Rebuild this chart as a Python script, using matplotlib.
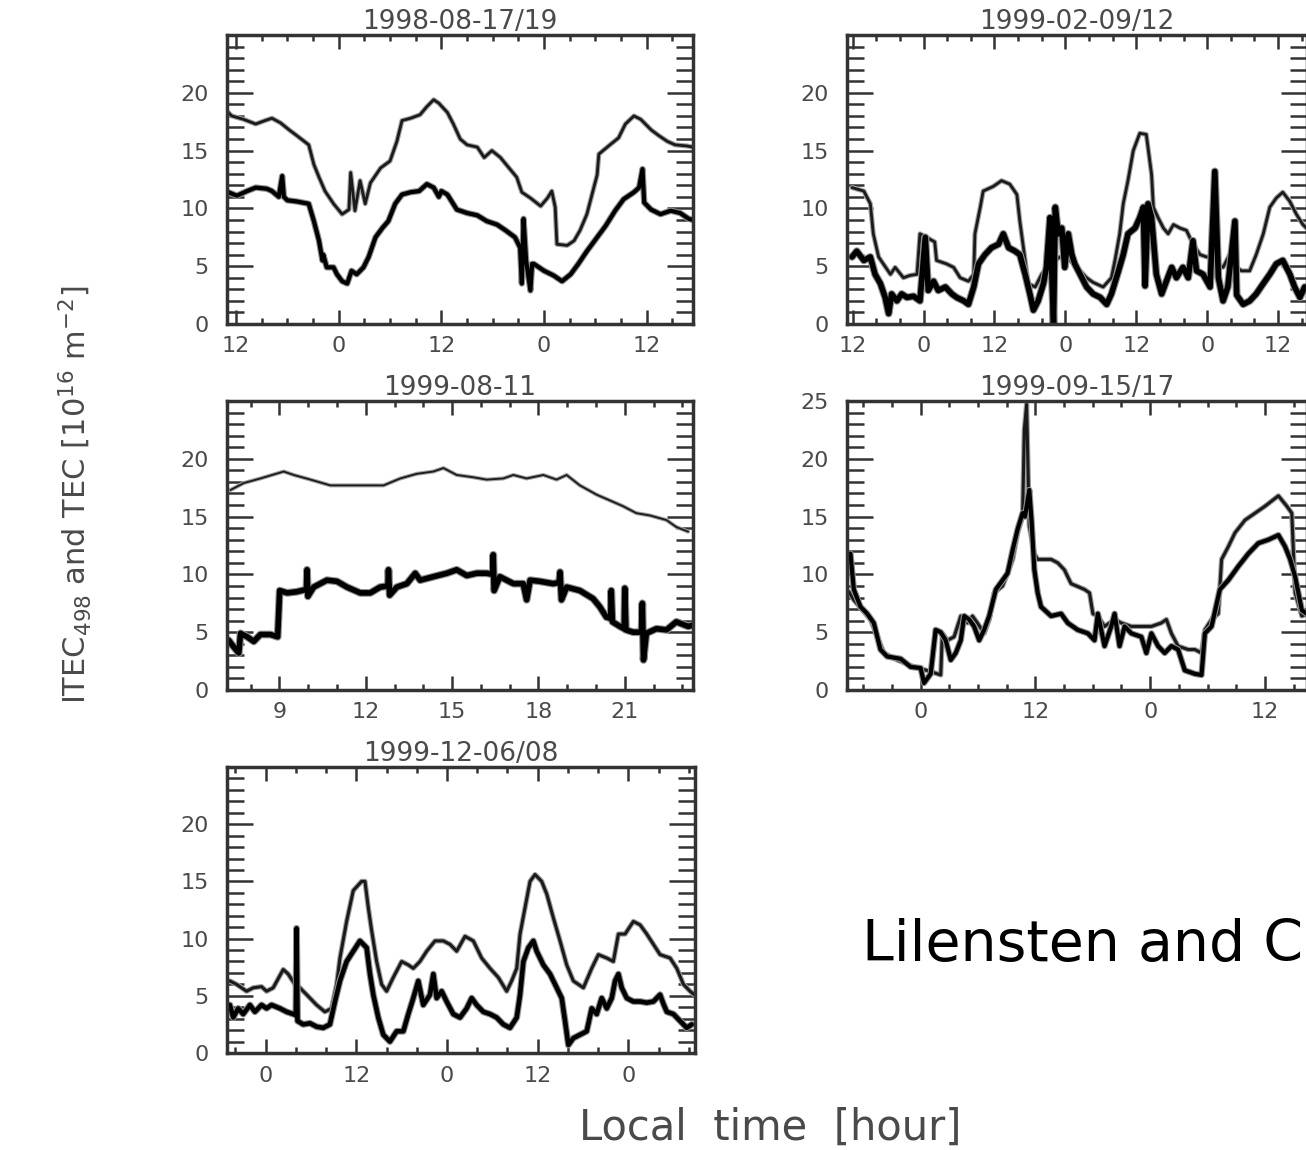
import matplotlib
matplotlib.use("Agg")
import matplotlib.pyplot as plt
from matplotlib.ticker import FixedLocator, MultipleLocator
import matplotlib.patheffects as pe

# ---------------- data (hours, TEC units 1e16 m^-2) ----------------
titles = ["1998-08-17/19", "1999-02-09/12", "1999-08-11", "1999-09-15/17", "1999-12-06/08"]

p1_upper = [(-12.9,18.3),(-12.5,18.0),(-11.1,17.7),(-9.7,17.3),(-8.6,17.6),(-7.8,17.8),(-6.8,17.4),
            (-5.8,16.8),(-4.9,16.3),(-3.5,15.5),(-2.9,13.8),(-2.3,12.7),(-1.6,11.5),(-0.6,10.4),(0.4,9.5),
            (1.2,9.9),(1.4,13.1),(1.9,9.8),(2.5,12.4),(3.1,10.4),(3.7,12.2),(4.9,13.5),(6.0,14.1),(6.8,15.8),
            (7.4,17.6),(8.4,17.8),(9.5,18.1),(10.3,18.8),(11.1,19.4),(11.7,19.1),(12.7,18.3),(13.4,17.3),
            (14.2,16.0),(15.0,15.5),(16.2,15.3),(17.0,14.4),(17.9,15.0),(18.9,14.4),(19.9,13.5),(20.8,12.7),
            (21.4,11.4),(22.4,10.9),(23.6,10.2),(24.4,10.9),(24.9,11.5),(25.3,10.1),(25.5,6.9),(26.7,6.8),
            (27.5,7.2),(28.2,8.1),(29.0,9.5),(29.6,11.2),(30.2,12.9),(30.4,14.7),(31.7,15.5),(32.7,16.1),
            (33.5,17.3),(34.5,18.0),(35.3,17.7),(36.5,16.8),(37.4,16.3),(38.4,15.8),(39.3,15.5),(40.7,15.4),
            (41.4,15.3)]
p1_lower = [(-12.9,11.4),(-11.9,11.1),(-10.7,11.5),(-9.7,11.8),(-8.4,11.7),(-7.8,11.5),(-7.0,11.0),
            (-6.6,12.8),(-6.4,11.0),(-6.0,10.7),(-4.9,10.6),(-3.5,10.4),(-2.9,8.9),(-2.3,7.2),(-1.9,5.5),
            (-1.8,6.0),(-1.4,4.9),(-0.6,4.9),(-0.2,4.3),(0.4,3.7),(1.0,3.5),(1.5,4.6),(2.1,4.3),(2.9,4.9),
            (3.5,5.8),(4.3,7.5),(5.1,8.3),(5.8,8.9),(6.6,10.4),(7.4,11.2),(8.4,11.4),(9.4,11.5),(10.3,12.1),
            (11.1,11.8),(11.7,11.0),(12.0,11.5),(12.7,11.2),(13.8,9.9),(15.0,9.6),(16.2,9.4),(17.3,8.9),
            (18.5,8.6),(19.5,8.1),(20.6,7.5),(21.2,6.6),(21.4,3.5),(21.6,9.1),(21.9,5.5),(22.4,2.9),
            (22.6,5.2),(22.8,5.2),(24.0,4.6),(25.1,4.2),(26.1,3.7),(27.1,4.3),(28.0,5.2),(29.0,6.3),
            (30.2,7.5),(31.2,8.5),(32.3,9.8),(33.3,10.8),(34.5,11.4),(35.1,11.8),(35.5,13.4),(35.7,10.5),
            (36.5,9.9),(37.6,9.5),(38.8,9.8),(39.9,9.6),(40.9,9.1),(41.4,9.0)]

p2_upper = [(-12.1,11.8),(-10.1,11.5),(-9.0,10.4),(-8.5,7.8),(-7.6,5.8),(-6.8,5.2),(-5.6,4.3),(-4.8,4.9),
            (-3.4,4.0),(-2.3,4.2),(-1.1,4.3),(-0.6,7.8),(0.5,7.5),(1.9,7.1),(2.2,5.5),(3.9,5.2),(5.1,4.9),
            (6.2,4.0),(7.6,3.7),(8.5,4.3),(8.7,7.8),(9.6,10.1),(10.1,11.5),(11.8,11.9),(13.2,12.4),
            (14.6,12.1),(15.8,11.2),(16.3,8.9),(17.2,5.5),(17.7,3.5),(18.9,3.2),(20.0,4.3),(21.4,5.2),
            (23.1,5.8),(24.2,5.8),(25.4,5.2),(26.5,4.6),(27.6,4.0),(28.7,3.6),(30.4,3.2),(31.8,4.0),
            (32.4,5.5),(33.2,7.8),(33.8,10.4),(34.6,12.4),(35.5,15.0),(36.6,16.5),(37.7,16.4),(38.6,12.9),
            (38.9,10.1),(39.7,9.2),(40.6,8.3),(41.4,7.8),(42.3,8.6),(43.4,8.3),(44.5,8.1),(45.6,6.9),
            (46.8,6.0),(47.9,5.8),(48.7,5.8),(49.6,5.2),(50.7,4.9),(51.8,6.0),(53.0,4.9),(53.8,4.6),
            (55.2,4.6),(56.3,6.0),(57.5,7.8),(58.6,10.1),(59.7,10.9),(60.8,11.4),(62.0,10.6),(63.1,9.5),
            (64.2,8.6),(64.8,8.3)]
p2_lower = [(-12.1,5.8),(-11.3,6.3),(-10.1,5.5),(-9.0,5.8),(-8.2,4.3),(-7.3,3.5),(-6.5,2.3),(-5.9,0.9),
            (-5.4,2.6),(-4.5,2.0),(-3.7,2.6),(-2.8,2.3),(-1.7,2.4),(-0.6,2.0),(0.3,7.5),(0.8,2.9),(1.7,3.7),
            (2.5,2.9),(3.7,3.2),(4.8,2.6),(5.6,2.3),(6.8,2.0),(7.6,1.7),(8.5,3.2),(9.3,5.2),(10.4,6.0),
            (11.5,6.6),(12.7,6.9),(13.5,7.8),(14.4,6.6),(15.5,6.3),(16.3,6.0),(17.2,4.3),(18.0,2.6),
            (18.6,1.2),(19.4,2.0),(20.3,3.5),(20.8,4.9),(21.4,9.2),(22.0,0.0),(22.3,10.1),(22.8,7.8),
            (23.4,8.3),(23.9,4.9),(24.5,7.8),(25.1,6.0),(25.6,5.2),(26.5,4.3),(27.6,3.2),(28.7,2.6),
            (29.9,2.3),(31.0,1.7),(31.8,2.6),(33.0,4.6),(33.8,6.0),(34.6,7.8),(35.8,8.3),(36.6,9.2),
            (37.2,10.1),(37.5,3.3),(38.0,10.4),(38.6,9.2),(39.4,4.3),(40.3,2.6),(41.1,3.7),(42.0,4.9),
            (42.8,4.0),(43.9,4.9),(44.8,4.0),(45.6,7.2),(46.2,4.6),(47.3,4.3),(48.5,3.2),(49.3,13.2),
            (49.9,4.0),(50.7,2.0),(51.5,3.2),(52.7,8.9),(53.0,2.5),(54.1,1.7),(55.2,2.0),(56.3,2.6),
            (57.5,3.5),(58.6,4.3),(59.7,5.2),(60.8,5.5),(62.0,4.3),(62.8,3.2),(63.7,2.3),(64.5,3.2)]

p3_upper = [(7.30,17.3),(7.76,17.9),(8.34,18.3),(9.15,18.9),(9.50,18.6),(10.08,18.2),(10.77,17.7),
            (11.35,17.7),(12.04,17.7),(12.62,17.7),(13.20,18.3),(13.77,18.7),(14.35,18.9),(14.70,19.2),
            (15.16,18.6),(15.74,18.4),(16.20,18.2),(16.78,18.3),(17.13,18.6),(17.59,18.3),(18.17,18.6),
            (18.63,18.2),(18.98,18.6),(19.44,17.7),(20.02,16.9),(20.48,16.4),(20.94,15.9),(21.40,15.3),
            (21.87,15.1),(22.45,14.7),(22.79,14.1),(23.20,13.7)]
p3_lower = [(7.24,4.3),(7.42,3.7),(7.59,3.2),(7.65,4.9),(7.88,4.6),(8.11,4.2),(8.34,4.8),(8.69,4.8),
            (8.94,4.6),(9.01,8.6),(9.27,8.4),(9.61,8.5),(9.94,8.7),(9.96,10.4),(9.99,8.1),(10.19,8.9),
            (10.65,9.5),(11.0,9.4),(11.35,8.9),(11.81,8.4),(12.16,8.4),(12.50,8.9),(12.77,9.0),(12.79,10.4),
            (12.83,8.2),(13.08,8.9),(13.43,9.2),(13.72,10.1),(13.89,9.5),(14.35,9.8),(14.82,10.1),
            (15.16,10.4),(15.51,9.9),(15.86,10.1),(16.20,10.1),(16.41,10.0),(16.43,11.7),(16.46,8.6),
            (16.66,9.8),(17.13,9.2),(17.47,9.2),(17.59,7.8),(17.71,9.5),(18.05,9.4),(18.51,9.2),(18.72,9.3),
            (18.75,10.2),(18.80,7.8),(18.98,8.9),(19.44,8.6),(19.90,7.9),(20.13,7.2),(20.36,6.3),
            (20.51,6.2),(20.53,8.6),(20.57,5.9),(20.83,5.5),(20.98,5.3),(21.0,8.8),(21.04,5.2),(21.29,5.0),
            (21.58,5.0),(21.61,7.5),(21.65,2.6),(21.75,4.9),(22.10,5.3),(22.45,5.2),(22.79,5.9),
            (23.20,5.5),(23.35,5.6)]

p4_upper = [(-7.5,8.5),(-7.0,7.8),(-5.24,6.1),(-3.85,3.2),(-2.45,2.6),(-0.70,2.0),(1.05,1.6),(2.10,1.3),
            (2.27,4.9),(2.80,4.3),(3.50,4.6),(4.20,6.4),(4.90,5.8),(5.42,6.4),(5.94,5.8),(6.64,4.9),
            (7.17,6.1),(7.69,8.4),(8.57,9.0),(9.09,10.1),(9.62,11.3),(10.14,13.6),(10.66,15.0),(10.84,22.5),
            (11.08,24.7),(11.36,14.2),(11.89,11.8),(12.24,11.3),(13.64,11.3),(14.34,11.0),(15.03,10.4),
            (15.73,9.2),(17.13,8.7),(17.66,8.4),(18.01,6.6),(18.53,6.4),(19.23,5.5),(20.28,6.1),(20.98,5.8),
            (22.03,5.5),(23.08,5.5),(24.13,5.5),(25.17,5.8),(25.70,6.1),(26.22,4.9),(26.92,3.8),(27.97,3.5),
            (28.67,3.5),(29.37,3.2),(29.72,5.2),(30.42,6.1),(31.12,6.6),(31.47,11.3),(32.17,12.4),
            (32.87,13.6),(33.92,14.7),(34.97,15.3),(36.01,15.9),(37.41,16.8),(38.29,15.9),(38.81,15.3),
            (39.16,8.4),(39.86,6.4),(40.38,6.6)]
p4_lower = [(-7.34,11.8),(-6.99,8.7),(-6.29,7.2),(-5.59,6.6),(-4.90,5.8),(-4.20,3.5),(-3.50,2.9),
            (-2.10,2.7),(-1.05,2.0),(0.0,1.9),(0.35,0.6),(1.05,1.4),(1.57,5.2),(2.10,5.0),(2.62,4.3),
            (3.15,2.6),(3.67,3.2),(4.20,4.3),(4.55,6.4),(5.07,6.1),(5.59,5.5),(6.12,4.3),(6.64,5.2),
            (7.17,6.4),(7.87,8.7),(8.57,9.5),(9.09,10.1),(9.62,12.1),(10.14,13.9),(10.66,15.3),(10.91,15.0),
            (11.36,17.3),(11.61,14.5),(11.89,10.4),(12.24,8.4),(12.59,7.2),(13.64,6.4),(14.69,6.6),
            (15.38,5.8),(16.43,5.2),(17.48,4.9),(18.18,4.3),(18.53,6.6),(19.23,3.8),(19.93,5.5),(20.28,6.6),
            (20.80,3.8),(21.33,5.5),(22.03,4.9),(23.08,4.6),(23.60,3.2),(24.13,4.9),(24.83,3.8),(25.52,3.2),
            (26.22,3.8),(26.92,3.5),(27.62,1.7),(28.67,1.4),(29.37,1.3),(29.72,4.9),(30.42,5.5),(31.29,8.7),
            (32.17,9.5),(33.22,10.7),(34.27,11.8),(35.31,12.7),(36.36,13.0),(37.41,13.4),(38.11,12.4),
            (38.64,11.3),(39.16,9.8),(39.86,6.9),(40.38,6.6)]

p5_upper = [(-4.72,6.3),(-3.84,6.0),(-2.51,5.4),(-1.63,5.7),(-0.53,5.8),(0.13,5.4),(1.01,5.7),(2.34,7.3),
            (3.0,6.9),(3.88,6.0),(4.54,5.7),(5.43,5.1),(6.75,4.2),(7.85,3.6),(8.73,3.9),(9.40,6.0),(9.84,8.3),
            (10.72,11.5),(11.60,14.2),(12.70,15.0),(13.15,15.0),(13.59,12.7),(14.03,10.7),(14.69,8.0),
            (15.35,6.0),(16.01,5.4),(16.89,6.6),(18.0,8.0),(18.88,7.7),(19.54,7.4),(20.42,8.0),(21.31,8.9),
            (22.41,9.8),(23.51,9.8),(24.39,9.5),(25.28,8.9),(26.38,10.2),(27.48,9.8),(28.58,8.3),(29.69,7.4),
            (30.79,6.6),(31.89,5.4),(32.55,6.3),(33.22,7.4),(33.66,10.4),(34.32,12.7),(34.98,15.0),
            (35.64,15.6),(36.52,15.0),(37.19,13.9),(38.07,11.8),(38.95,9.8),(39.83,7.7),(40.71,6.3),
            (42.04,5.7),(43.14,7.4),(44.02,8.6),(45.13,8.3),(46.0,8.0),(46.67,10.4),(47.55,10.4),(48.65,11.5),
            (49.54,11.2),(50.42,10.4),(51.30,9.5),(52.18,8.6),(53.51,8.3),(54.39,7.4),(55.27,6.0),
            (56.15,5.4),(56.7,5.1)]
p5_lower = [(-4.72,4.2),(-4.28,3.1),(-3.62,3.9),(-2.96,3.4),(-2.07,4.2),(-1.41,3.6),(-0.53,4.2),(0.13,3.9),
            (0.79,4.2),(1.90,3.9),(2.78,3.6),(3.66,3.4),(4.01,3.3),(4.10,10.9),(4.23,2.8),(4.98,2.5),(5.87,2.6),
            (6.75,2.3),(7.63,2.2),(8.51,2.5),(9.18,4.5),(9.84,6.3),(10.72,8.0),(11.60,8.9),(12.48,9.8),
            (13.37,9.2),(13.81,6.9),(14.25,5.1),(14.91,3.1),(15.57,1.6),(16.45,1.0),(17.34,1.9),(18.22,1.9),
            (18.88,3.4),(19.54,4.8),(20.20,6.3),(20.86,4.2),(21.75,5.1),(22.19,6.9),(22.63,4.8),(23.29,5.4),
            (23.95,4.5),(24.83,3.4),(25.72,3.1),(26.60,3.9),(27.26,4.8),(27.92,4.2),(28.80,3.6),(29.69,3.4),
            (30.57,3.1),(31.45,2.5),(32.33,2.2),(33.22,3.1),(33.66,5.1),(34.10,8.0),(34.76,9.2),(35.42,9.8),
            (35.86,8.9),(36.74,7.7),(37.63,6.9),(38.51,5.7),(39.17,4.8),(39.61,2.8),(40.05,0.7),(40.71,1.3),
            (41.60,1.6),(42.48,1.9),(43.14,3.9),(43.80,3.4),(44.46,4.8),(45.13,3.9),(45.79,4.8),(46.23,6.3),
            (46.67,6.9),(47.11,5.7),(47.77,4.8),(48.65,4.5),(49.54,4.5),(50.42,4.4),(51.30,4.5),(52.18,5.1),
            (52.62,4.3),(53.07,3.6),(53.95,3.4),(54.83,2.8),(55.71,2.2),(56.37,2.5)]

# x tick positions / labels per panel
p1_ticks, p1_labels = [-12, 0, 12, 24, 36], ["12", "0", "12", "0", "12"]
p2_ticks, p2_labels = [-12, 0, 12, 24, 36, 48, 60], ["12", "0", "12", "0", "12", "0", "12"]
p3_ticks, p3_labels = [9, 12, 15, 18, 21], ["9", "12", "15", "18", "21"]
p4_ticks, p4_labels = [0, 12, 24, 36], ["0", "12", "0", "12"]
p5_ticks, p5_labels = [0, 12, 24, 36, 48], ["0", "12", "0", "12", "0"]
y_ticks = [0, 5, 10, 15, 20]
y_ticks_25 = [0, 5, 10, 15, 20, 25]

# ---------------- figure ----------------
W, H = 1306, 1150
fig = plt.figure(figsize=(W / 100, H / 100), dpi=100)
plt.rcParams['font.family'] = ['DejaVu Sans']

def rect(left, top, right, bottom):
    return [left / W, 1 - bottom / H, (right - left) / W, (bottom - top) / H]

panels = [
    dict(r=rect(227, 35, 693, 324), up=p1_upper, lo=p1_lower, xl=(-13.05, 41.4), t=p1_ticks, tl=p1_labels,
         minor=3, yt=y_ticks, lwu=2.0, lwl=3.0),
    dict(r=rect(847, 35, 1307, 324), up=p2_upper, lo=p2_lower, xl=(-12.95, 64.9), t=p2_ticks, tl=p2_labels,
         minor=4, yt=y_ticks, lwu=2.0, lwl=4.0),
    dict(r=rect(227, 401, 693, 690), up=p3_upper, lo=p3_lower, xl=(7.18, 23.37), t=p3_ticks, tl=p3_labels,
         minor=1, yt=y_ticks, lwu=1.3, lwl=4.0),
    dict(r=rect(847, 401, 1307, 690), up=p4_upper, lo=p4_lower, xl=(-7.7, 40.4), t=p4_ticks, tl=p4_labels,
         minor=3, yt=y_ticks_25, lwu=2.2, lwl=3.0),
    dict(r=rect(227, 767, 695, 1053), up=p5_upper, lo=p5_lower, xl=(-5.1, 56.8), t=p5_ticks, tl=p5_labels,
         minor=4, yt=y_ticks, lwu=2.2, lwl=3.3),
]

frame_c = "#333333"
text_c = "#4a4a4a"

for title, p in zip(titles, panels):
    ax = fig.add_axes(p["r"])
    ux, uy = zip(*p["up"])
    lx, ly = zip(*p["lo"])
    ax.plot(ux, uy, color="#1a1a1a", lw=p["lwu"], solid_joinstyle="round", solid_capstyle="round",
            path_effects=[pe.Stroke(linewidth=p["lwu"] + 1.6, foreground="#a0a0a0"), pe.Normal()])
    ax.plot(lx, ly, color="#000000", lw=p["lwl"], solid_joinstyle="round", solid_capstyle="round",
            path_effects=[pe.Stroke(linewidth=p["lwl"] + 1.6, foreground="#909090"), pe.Normal()])
    ax.set_xlim(*p["xl"])
    ax.set_ylim(0, 25)
    ax.xaxis.set_major_locator(FixedLocator(p["t"]))
    ax.set_xticklabels(p["tl"])
    ax.xaxis.set_minor_locator(MultipleLocator(p["minor"]))
    ax.yaxis.set_major_locator(FixedLocator(p["yt"]))
    ax.yaxis.set_minor_locator(MultipleLocator(1))
    ax.tick_params(axis="both", which="both", direction="in", top=True, right=True,
                   color=frame_c, width=1.8, labelcolor=text_c, labelsize=16)
    ax.tick_params(axis="y", which="major", length=19, pad=13)
    ax.tick_params(axis="y", which="minor", length=12)
    ax.tick_params(axis="x", which="major", length=10, pad=9)
    ax.tick_params(axis="x", which="minor", length=4.5)
    for s in ax.spines.values():
        s.set_linewidth(2.5)
        s.set_color(frame_c)
    ax.set_title(title, fontsize=19, color=text_c, pad=3)

fig.text(75 / W, 1 - 495 / H, r"ITEC$_{498}$ and TEC $[10^{16}\ \mathrm{m}^{-2}]$", rotation=90,
         ha="center", va="center", fontsize=22, color=text_c)
fig.text(770 / W, 1 - 1128 / H, "Local  time  [hour]", ha="center", va="center", fontsize=30, color=text_c)
fig.text(862 / W, 1 - 945 / H, "Lilensten and C", ha="left", va="center", fontsize=41, color="black")

fig.savefig("out.png", dpi=100)
